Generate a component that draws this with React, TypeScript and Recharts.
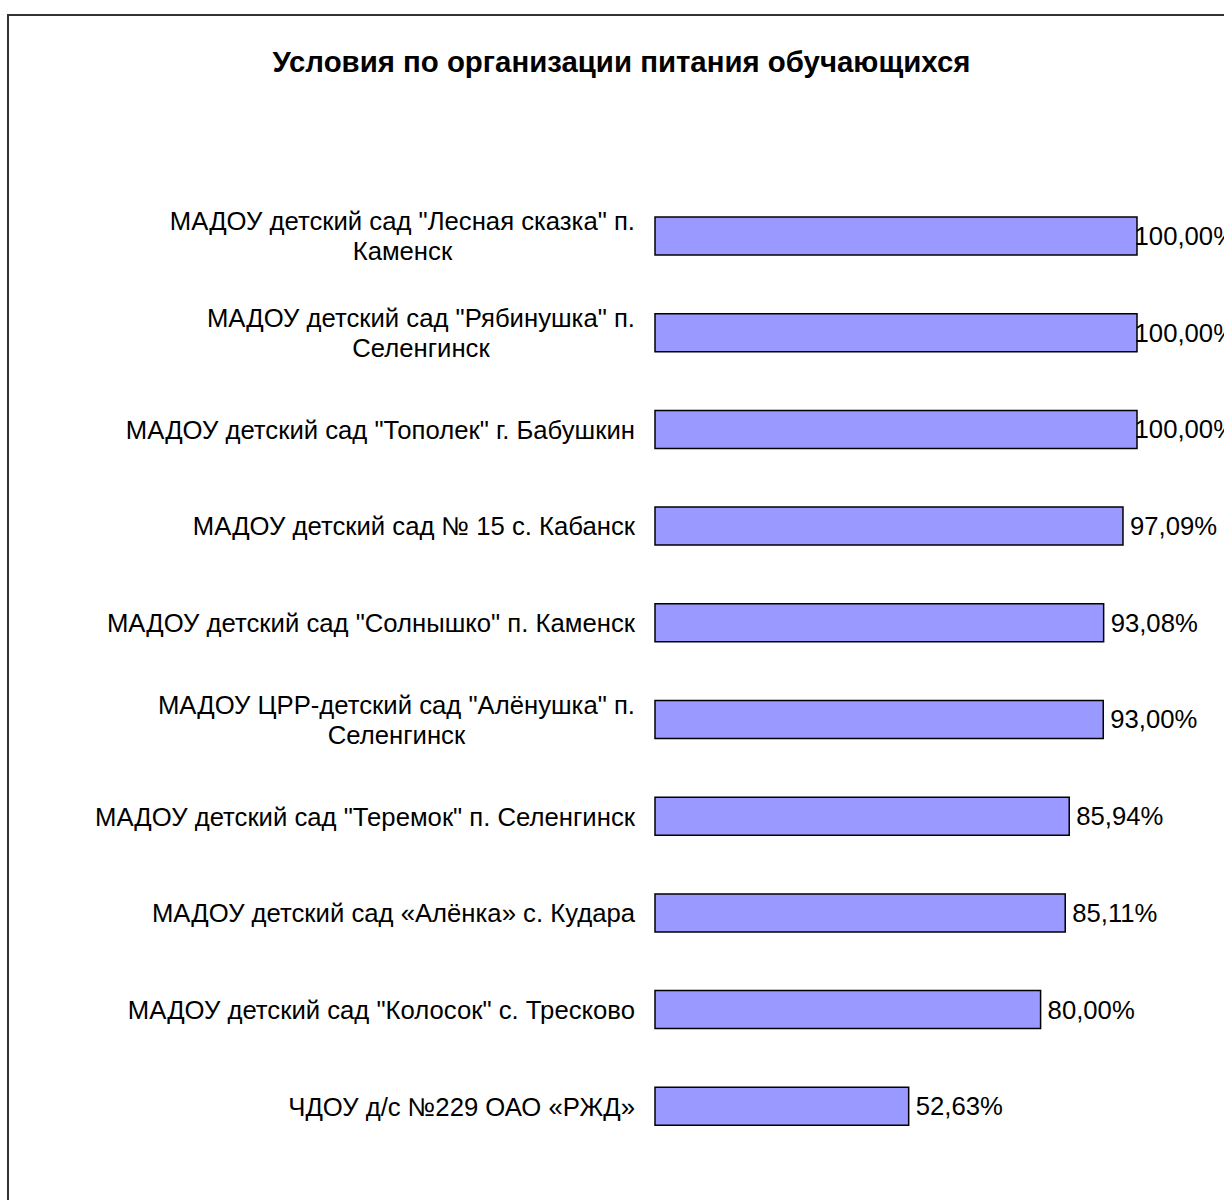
import React from 'react';
import { BarChart, Bar, XAxis, YAxis, LabelList } from 'recharts';

const categories = [
    'МАДОУ детский сад "Лесная сказка" п.\nКаменск',
    'МАДОУ детский сад "Рябинушка" п.\nСеленгинск',
    'МАДОУ детский сад "Тополек" г. Бабушкин',
    'МАДОУ детский сад № 15 с. Кабанск',
    'МАДОУ детский сад "Солнышко" п. Каменск',
    'МАДОУ ЦРР-детский сад "Алёнушка" п.\nСеленгинск',
    'МАДОУ детский сад "Теремок" п. Селенгинск',
    'МАДОУ детский сад «Алёнка» с. Кудара',
    'МАДОУ детский сад "Колосок" с. Тресково',
    'ЧДОУ д/с №229 ОАО «РЖД»',
];

const percentages = [100, 100, 100, 97.09, 93.08, 93.0, 85.94, 85.11, 80.0, 52.63];

const chartTitle = 'Условия по организации питания обучающихся';

const FONT = "'Liberation Sans', Arial, sans-serif";
const FONT_SIZE = 25.7;
const LABEL_LIMIT = 1236; // right edge of the chart box, labels get pushed back inside it

const data = categories.map((name, i) => ({ name, value: percentages[i] }));

let ctx: CanvasRenderingContext2D | null = null;
const textWidth = (s: string) => {
    if (!ctx) ctx = document.createElement('canvas').getContext('2d');
    if (!ctx) return s.length * FONT_SIZE * 0.55;
    ctx.font = `${FONT_SIZE}px ${FONT}`;
    return ctx.measureText(s).width;
};

const CategoryTick = (props: any) => {
    const { x, y, payload } = props;
    const lines: string[] = String(payload.value).split('\n');
    const right = x - 12;
    const lineH = 30;
    if (lines.length === 1) {
        return (
            <text x={right} y={y} dy="0.35em" textAnchor="end" fontSize={FONT_SIZE} fontFamily={FONT} fill="#000">
                {lines[0]}
            </text>
        );
    }
    const maxW = Math.max(...lines.map(textWidth));
    const cx = right - maxW / 2;
    const startY = y - ((lines.length - 1) * lineH) / 2;
    return (
        <text textAnchor="middle" fontSize={FONT_SIZE} fontFamily={FONT} fill="#000">
            {lines.map((l, i) => (
                <tspan key={i} x={cx} y={startY + i * lineH} dy="0.35em">{l}</tspan>
            ))}
        </text>
    );
};

const ValueLabel = (props: any) => {
    const { x, y, width, height, value } = props;
    const txt = Number(value).toFixed(2).replace('.', ',') + '%';
    const w = textWidth(txt);
    const lx = Math.min(x + width + 7, LABEL_LIMIT - w);
    return (
        <text x={lx} y={y + height / 2} dy="0.35em" fontSize={FONT_SIZE} fontFamily={FONT} fill="#000">
            {txt}
        </text>
    );
};

export default function App() {
    return (
        <div style={{ position: 'absolute', left: 0, top: 0, width: 1224, height: 1200, overflow: 'hidden', background: '#fff' }}>
            <div style={{ position: 'absolute', left: 7, top: 14, width: 1260, height: 1260, border: '2px solid #333', boxSizing: 'border-box' }} />
            <div style={{ position: 'absolute', left: 0, width: 1243, top: 45, textAlign: 'center', fontFamily: FONT, fontWeight: 'bold', fontSize: 29.4, lineHeight: '34px', color: '#000' }}>
                {chartTitle}
            </div>
            <div style={{ position: 'absolute', left: 0, top: 0 }}>
                <BarChart
                    width={1224}
                    height={1200}
                    data={data}
                    layout="vertical"
                    margin={{ top: 188, right: 87, bottom: 45, left: 0 }}
                >
                    <XAxis type="number" domain={[0, 100]} hide />
                    <YAxis
                        type="category"
                        dataKey="name"
                        width={655}
                        axisLine={false}
                        tickLine={false}
                        tick={<CategoryTick />}
                        interval={0}
                    />
                    <Bar dataKey="value" fill="#9999FF" stroke="#000" strokeWidth={1.5} barSize={38} isAnimationActive={false}>
                        <LabelList dataKey="value" content={<ValueLabel />} />
                    </Bar>
                </BarChart>
            </div>
        </div>
    );
}
